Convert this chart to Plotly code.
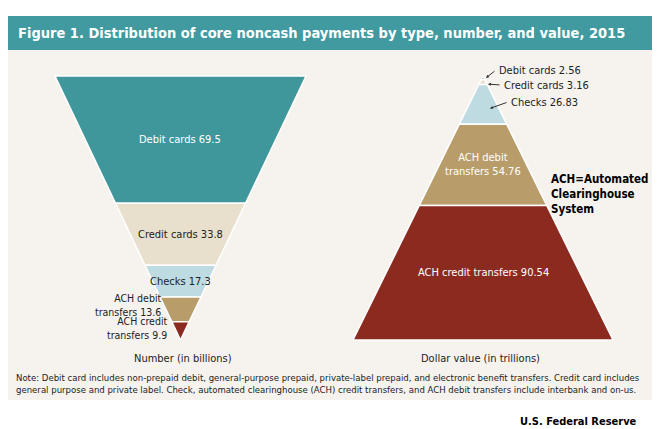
import plotly.graph_objects as go

# Data
types = ['Debit cards', 'Credit cards', 'Checks', 'ACH debit transfers', 'ACH credit transfers']
number_bn = [69.5, 33.8, 17.3, 13.6, 9.9]
value_tn = [2.56, 3.16, 26.83, 54.76, 90.54]
colors = ['#3f979c', '#e8dfcd', '#bddbe0', '#b89c6a', '#8b2a1f']

fig = go.Figure()

def band(x_mid, half_w, y_apex, y_base, t0, t1):
    # t measured from apex (0) to base (1)
    ya = y_apex + (y_base - y_apex) * t0
    yb = y_apex + (y_base - y_apex) * t1
    wa, wb = half_w * t0, half_w * t1
    return ([x_mid - wa, x_mid + wa, x_mid + wb, x_mid - wb, x_mid - wa],
            [ya, ya, yb, yb, ya])

# left funnel: apex at bottom, debit on top
tot = sum(number_bn)
cum = 0
left_mid = []
for name, v, c in zip(types, number_bn, colors):
    t1 = 1 - cum / tot
    t0 = 1 - (cum + v) / tot
    xs, ys = band(172.5, 125.5, 332, 68, t0, t1)
    fig.add_trace(go.Scatter(x=xs, y=ys, fill='toself', fillcolor=c, mode='lines',
                             line=dict(color='white', width=1.5), hoverinfo='skip', showlegend=False))
    left_mid.append(332 + (68 - 332) * (t0 + t1) / 2)
    cum += v

# right pyramid: apex at top, debit at top
tot = sum(value_tn)
cum = 0
right_mid = []
for name, v, c in zip(types, value_tn, colors):
    t0 = cum / tot
    t1 = (cum + v) / tot
    xs, ys = band(475, 130, 68, 332, t0, t1)
    fig.add_trace(go.Scatter(x=xs, y=ys, fill='toself', fillcolor=c, mode='lines',
                             line=dict(color='white', width=1.5), hoverinfo='skip', showlegend=False))
    right_mid.append(68 + 264 * (t0 + t1) / 2)
    cum += v

font = 'DejaVu Sans Condensed, Liberation Sans Narrow, Liberation Sans, sans-serif'
def txt(x, y, s, color='#222', size=11, anchor='center', bold=False, **kw):
    fig.add_annotation(x=x, y=y, text=('<b>%s</b>' % s) if bold else s, showarrow=False,
                       font=dict(family=font, size=size, color=color), xanchor=anchor,
                       align='left' if anchor == 'left' else ('right' if anchor == 'right' else 'center'), **kw)

# left labels
txt(172, left_mid[0], f'{types[0]} {number_bn[0]}', color='white')
txt(172, left_mid[1], f'{types[1]} {number_bn[1]}')
txt(172, left_mid[2], f'{types[2]} {number_bn[2]}')
txt(156, 297, f'ACH debit<br>transfers {number_bn[3]}', anchor='right', size=10.5)
txt(162, 320, f'ACH credit<br>transfers {number_bn[4]}', anchor='right', size=10.5)

# right labels
for i, (ly, lx) in enumerate([(62, 488), (77, 493), (94, 500)]):
    fig.add_annotation(x=475 + 3 + 2 * i, y=right_mid[i] + 2 * i, ax=lx, ay=ly, axref='x', ayref='y',
                       text='', showarrow=True, arrowhead=2, arrowsize=0.6, arrowwidth=1, arrowcolor='#333')
    txt(lx + 1, ly, f'{types[i]} {value_tn[i]}', anchor='left')
txt(475, right_mid[3], f'ACH debit<br>transfers {value_tn[3]}', color='white')
txt(475, right_mid[4], f'ACH credit transfers {value_tn[4]}', color='white')
txt(541, 186, 'ACH=Automated<br>Clearinghouse<br>System', anchor='left', bold=True,
    size=11.5, color='black')

txt(175, 350, 'Number (in billions)', size=11)
txt(472, 350, 'Dollar value (in trillions)', size=11)
txt(6, 375, 'Note: Debit card includes non-prepaid debit, general-purpose prepaid, private-label prepaid, and electronic benefit transfers. Credit card includes<br>'
    'general purpose and private label. Check, automated clearinghouse (ACH) credit transfers, and ACH debit transfers include interbank and on-us.',
    anchor='left', size=9.5)
txt(510, 413, 'U.S. Federal Reserve', anchor='left', bold=True, size=11,
    color='black')
txt(8, 25, 'Figure 1. Distribution of core noncash payments by type, number, and value, 2015',
    anchor='left', bold=True, size=14.5, color='white')

fig.update_layout(
    width=660, height=429, margin=dict(l=0, r=0, t=0, b=0),
    paper_bgcolor='white', plot_bgcolor='white',
    xaxis=dict(range=[0, 660], visible=False, fixedrange=True),
    yaxis=dict(range=[429, 0], visible=False, fixedrange=True),
    shapes=[
        dict(type='rect', xref='x', yref='y', x0=0, x1=660, y0=8, y1=392,
             fillcolor='#f6f3ee', line_width=0, layer='below'),
        dict(type='rect', xref='x', yref='y', x0=0, x1=660, y0=8, y1=42,
             fillcolor='#419a9f', line_width=0, layer='below'),
    ],
)

fig.write_html("out.html")
